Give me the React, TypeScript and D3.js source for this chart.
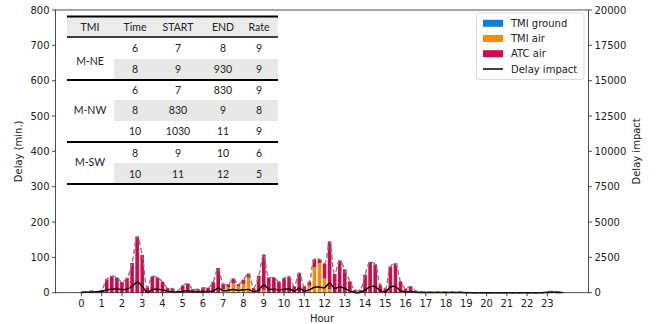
import React from "react";
import * as d3 from "d3";

// 15-minute slots across the day (hour of day as a decimal)
const slots: number[] = d3.range(96).map((i) => i / 4);

// Delay in minutes per 15-min slot, split by cause
const tmiGround: number[] = new Array(96).fill(0);

const tmiAir: number[] = [
  0, 0, 0, 0, 0, 0, 0, 0, 0, 0, 0, 0, 0, 0, 0, 0,
  0, 0, 0, 0, 0, 0, 0, 0, 0, 0, 0, 0,
  10, 15, 26, 18,
  25, 43, 0, 0,
  8, 0, 0, 0,
  0, 0, 0, 0,
  0, 20, 72, 84,
  40, 10, 0, 0,
  0, 0, 0, 0, 0, 0, 0, 0, 0, 0, 0, 0, 0, 0, 0, 0,
  0, 0, 0, 0, 0, 0, 0, 0, 0, 0, 0, 0, 0, 0, 0, 0,
  0, 0, 0, 0, 0, 0, 0, 0, 0, 0, 0, 0,
];

const atcAir: number[] = [
  2, 3, 5, 3,
  8, 38, 47, 43,
  30, 42, 84, 159,
  107, 15, 46, 43,
  31, 13, 12, 5,
  20, 26, 10, 10,
  14, 14, 30, 70,
  15, 9, 14, 6,
  12, 11, 13, 48,
  100, 43, 43, 31,
  41, 46, 18, 56,
  18, 11, 23, 11,
  42, 135, 53, 91,
  66, 32, 8, 8,
  51, 87, 80, 23,
  12, 74, 83, 32,
  12, 18, 5, 3,
  2, 2, 2, 2,
  2, 2, 2, 2,
  1, 0, 0, 0,
  0, 0, 0, 0,
  0, 0, 0, 0,
  0, 0, 0, 0,
  3, 4, 3, 2,
];

// Delay impact per slot (right axis)
const delayImpact: number[] = [
  20, 30, 40, 60,
  80, 200, 250, 250,
  230, 250, 450, 750,
  450, 20, 230, 240,
  200, 100, 60, 40,
  100, 140, 60, 60,
  80, 80, 120, 320,
  150, 180, 220, 170,
  200, 220, 80, 200,
  560, 250, 250, 200,
  240, 260, 120, 300,
  120, 200, 380, 400,
  350, 690, 300, 420,
  300, 120, 20, 20,
  200, 420, 430, 150,
  50, 400, 430, 150,
  60, 80, 30, 20,
  10, 10, 10, 10,
  10, 10, 10, 10,
  5, 0, 0, 0,
  0, 0, 0, 0,
  0, 0, 0, 0,
  0, 0, 0, 0,
  20, 25, 20, 10,
];

const hourTicks: number[] = d3.range(24);
const delayTicks: number[] = [0, 100, 200, 300, 400, 500, 600, 700, 800];
const impactTicks: number[] = [0, 2500, 5000, 7500, 10000, 12500, 15000, 17500, 20000];

// Restriction table rows
const tableHeader: string[] = ["TMI", "Time", "START", "END", "Rate"];
const tableGroups: string[] = ["M-NE", "M-NW", "M-SW"];
const tableRows: string[][] = [
  ["6", "7", "8", "9"],
  ["8", "9", "930", "9"],
  ["6", "7", "830", "9"],
  ["8", "830", "9", "8"],
  ["10", "1030", "11", "9"],
  ["8", "9", "10", "6"],
  ["10", "11", "12", "5"],
];
const rowGroup: number[] = [0, 0, 1, 1, 1, 2, 2];

const legendLabels: string[] = ["TMI ground", "TMI air", "ATC air", "Delay impact"];

const COLORS = { ground: "#0a7fd8", air: "#f08c0e", atc: "#cf0a4f" };
const FONT = "'DejaVu Sans', sans-serif";
const TFONT = "Lato, 'Open Sans', sans-serif";

export default function App() {
  const W = 662, H = 324;
  const left = 55.5, right = 588.5, top = 10, bottom = 292.7;

  const x = d3.scaleLinear().domain([-1.28, 25.03]).range([left, right]);
  const y = d3.scaleLinear().domain([0, 800]).range([bottom, top]);
  const y2 = d3.scaleLinear().domain([0, 20000]).range([bottom, top]);

  const barW = (x(0.25) - x(0)) * 0.72;

  const stack = slots.map((s, i) => {
    const g = tmiGround[i];
    const a = tmiAir[i];
    const c = atcAir[i];
    return { s, g, a, c, total: g + a + c };
  });

  const totalLine = d3
    .line<{ s: number; total: number }>()
    .x((d) => x(d.s))
    .y((d) => y(d.total))
    .curve(d3.curveCatmullRom.alpha(0.5));

  const impactLine = d3
    .line<number>()
    .x((_, i) => x(slots[i]))
    .y((d) => y2(d))
    .curve(d3.curveCatmullRom.alpha(0.5));

  // table layout
  const tx0 = 67, tx1 = 278, tSplit = 114;
  const colX = [90, 135, 178, 223, 259];
  const headerY0 = 17, headerY1 = 36.5;
  const rowCenters = [48, 69.5, 90, 110, 131.5, 153, 174];
  const shaded = [1, 3, 6];
  const rowBounds = [[37, 59], [59, 80], [80, 100], [100, 121], [121, 142], [142, 163], [163, 184]];
  const groupY = [61, 110, 162];
  const groupLines = [80, 142, 184];

  return (
    <svg width={W} height={H} style={{ display: "block", position: "absolute", left: 0, top: 0 }}>
      <rect x={0} y={0} width={W} height={H} fill="#fff" />

      {/* stacked bars */}
      <g>
        {stack.map((d, i) => (
          <g key={i}>
            {d.g > 0 && (
              <rect x={x(d.s) - barW / 2} y={y(d.g)} width={barW} height={y(0) - y(d.g)} fill={COLORS.ground} />
            )}
            {d.a > 0 && (
              <rect x={x(d.s) - barW / 2} y={y(d.g + d.a)} width={barW} height={y(d.g) - y(d.g + d.a)} fill={COLORS.air} />
            )}
            {d.c > 0 && (
              <rect
                x={x(d.s) - barW / 2}
                y={y(d.total)}
                width={barW}
                height={y(d.g + d.a) - y(d.total)}
                fill={COLORS.atc}
              />
            )}
          </g>
        ))}
      </g>

      {/* smoothed total delay */}
      <path d={totalLine(stack) || ""} fill="none" stroke="#808080" strokeWidth={1.4} strokeDasharray="5,2.5" />
      {/* delay impact */}
      <path d={impactLine(delayImpact) || ""} fill="none" stroke="#000" strokeWidth={1.5} />

      {/* frame */}
      <rect x={left} y={top} width={right - left} height={bottom - top} fill="none" stroke="#222" strokeWidth={0.8} />

      {/* bottom axis */}
      <g fontFamily={FONT} fontSize={10} fill="#222">
        {hourTicks.map((h) => (
          <g key={h}>
            <line x1={x(h)} x2={x(h)} y1={bottom} y2={bottom + 3.5} stroke="#222" strokeWidth={0.8} />
            <text x={x(h)} y={bottom + 14.5} textAnchor="middle">{h}</text>
          </g>
        ))}
        <text x={(left + right) / 2} y={322} textAnchor="middle">Hour</text>
      </g>

      {/* left axis */}
      <g fontFamily={FONT} fontSize={10} fill="#222">
        {delayTicks.map((t) => (
          <g key={t}>
            <line x1={left - 3.5} x2={left} y1={y(t)} y2={y(t)} stroke="#222" strokeWidth={0.8} />
            <text x={left - 6} y={y(t) + 3.6} textAnchor="end">{t}</text>
          </g>
        ))}
        <text transform={`translate(22,${(top + bottom) / 2}) rotate(-90)`} textAnchor="middle">Delay (min.)</text>
      </g>

      {/* right axis */}
      <g fontFamily={FONT} fontSize={10} fill="#222">
        {impactTicks.map((t) => (
          <g key={t}>
            <line x1={right} x2={right + 3.5} y1={y2(t)} y2={y2(t)} stroke="#222" strokeWidth={0.8} />
            <text x={right + 6} y={y2(t) + 3.6} textAnchor="start">{t}</text>
          </g>
        ))}
        <text transform={`translate(640,${(top + bottom) / 2}) rotate(-90)`} textAnchor="middle">Delay impact</text>
      </g>

      {/* restriction table */}
      <g fontFamily={TFONT} fontSize={10.5} fill="#222">
        <rect x={tx0} y={headerY0} width={tx1 - tx0} height={headerY1 - headerY0} fill="#ebebeb" />
        {shaded.map((r) => (
          <rect key={r} x={tSplit} y={rowBounds[r][0]} width={tx1 - tSplit} height={rowBounds[r][1] - rowBounds[r][0]} fill="#e8e8e8" />
        ))}
        <line x1={tx0} x2={tx1} y1={16.5} y2={16.5} stroke="#000" strokeWidth={2} />
        <line x1={tx0} x2={tx1} y1={37} y2={37} stroke="#000" strokeWidth={1.5} />
        {groupLines.map((gy) => (
          <line key={gy} x1={tx0} x2={tx1} y1={gy} y2={gy} stroke="#000" strokeWidth={2.2} />
        ))}
        {tableHeader.map((h, i) => (
          <text key={h} x={colX[i]} y={27 + 3.8} textAnchor="middle">{h}</text>
        ))}
        {tableGroups.map((g, i) => (
          <text key={g} x={colX[0]} y={groupY[i] + 3.8} textAnchor="middle">{g}</text>
        ))}
        {tableRows.map((row, r) =>
          row.map((v, c) => (
            <text key={`${r}-${c}`} x={colX[c + 1]} y={rowCenters[r] + 3.8} textAnchor="middle" data-group={rowGroup[r]}>
              {v}
            </text>
          ))
        )}
      </g>

      {/* legend */}
      <g fontFamily={FONT} fontSize={10} fill="#222">
        <rect x={476.5} y={13} width={107.5} height={66.5} rx={2.5} fill="#fff" fillOpacity={0.8} stroke="#d0d0d0" strokeWidth={0.8} />
        {[COLORS.ground, COLORS.air, COLORS.atc].map((c, i) => (
          <rect key={c} x={483} y={23.3 + i * 15.2 - 3.5} width={20} height={7} fill={c} />
        ))}
        <line x1={483} x2={503} y1={69} y2={69} stroke="#000" strokeWidth={1.5} />
        {legendLabels.map((l, i) => (
          <text key={l} x={511} y={23.3 + i * 15.2 + 3.6}>{l}</text>
        ))}
      </g>
    </svg>
  );
}
